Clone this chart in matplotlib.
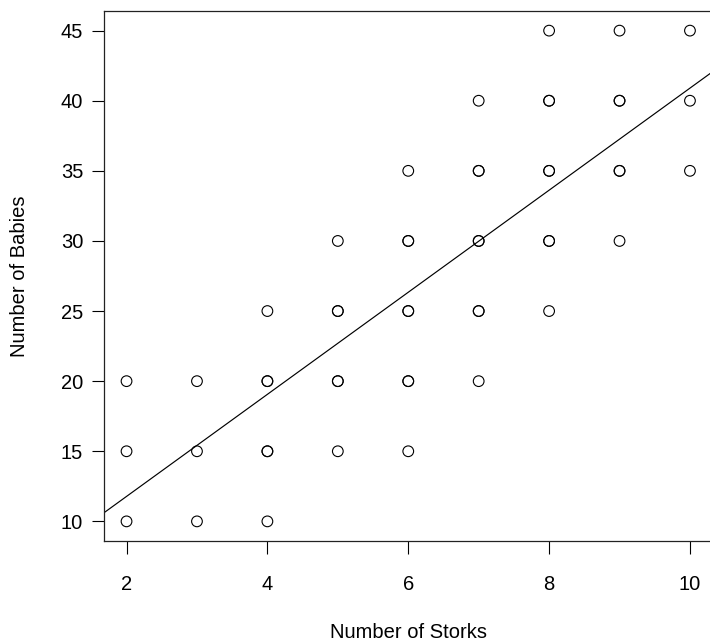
import matplotlib
matplotlib.use("Agg")
import matplotlib.pyplot as plt
import numpy as np

plt.rcParams['font.family'] = ['Liberation Sans', 'DejaVu Sans']

# Data (duplicates represented by repeated entries)
storks = [2, 2, 2,
          3, 3, 3,
          4, 4, 4, 4, 4, 4,
          5, 5, 5, 5, 5, 5,
          6, 6, 6, 6, 6, 6, 6, 6,
          7, 7, 7, 7, 7, 7, 7, 7,
          8, 8, 8, 8, 8, 8, 8, 8,
          9, 9, 9, 9, 9, 9,
          10, 10, 10]
babies = [10, 15, 20,
          10, 15, 20,
          10, 15, 15, 20, 20, 25,
          15, 20, 20, 25, 25, 30,
          15, 20, 20, 25, 25, 30, 30, 35,
          20, 25, 25, 30, 30, 35, 35, 40,
          25, 30, 30, 35, 35, 40, 40, 45,
          30, 35, 35, 40, 40, 45,
          35, 40, 45]

# fitted line
intercept = 4.5
slope = 3.64

x_ticks = [2, 4, 6, 8, 10]
y_ticks = [10, 15, 20, 25, 30, 35, 40, 45]
x_label = 'Number of Storks'
y_label = 'Number of Babies'

W, H = 710, 641
FS = 14.5
fig = plt.figure(figsize=(W / 100, H / 100), dpi=100)
left, right, top, bottom = 104, 712.5, 11, 541
ax = fig.add_axes([left / W, 1 - bottom / H, (right - left) / W, (bottom - top) / H])

ax.scatter(storks, babies, s=7.7 ** 2, facecolors='none', edgecolors='black',
           linewidths=0.8, zorder=3)

xl = (1.68, 10.32)
ax.set_xlim(*xl)
ax.set_ylim(8.6, 46.4)
xs = np.array(xl)
ax.plot(xs, intercept + slope * xs, color='black', lw=0.85)

ax.set_xticks(x_ticks)
ax.set_yticks(y_ticks)
ax.tick_params(direction='out', length=9, width=0.8, labelsize=FS, colors='black')
ax.tick_params(axis='x', pad=15.5)
ax.tick_params(axis='y', pad=6)
for s in ax.spines.values():
    s.set_linewidth(0.9)
    s.set_color('#222222')

fig.text(409 / W, 1 - 638 / H, x_label, fontsize=FS, ha='center', va='baseline')
fig.text(25 / W, 1 - 276 / H, y_label, fontsize=FS, ha='center', va='baseline',
         rotation=90, rotation_mode='anchor')

fig.savefig('out.png', dpi=100)
